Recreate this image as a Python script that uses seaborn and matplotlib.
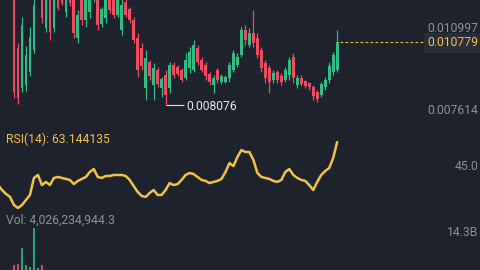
import numpy as np
import pandas as pd
import matplotlib
matplotlib.use("Agg")
import matplotlib.pyplot as plt
import seaborn as sns

# ---------------- data ----------------
candle_index = list(range(-4, 82))

opens = [0.01330, 0.01338, 0.01318, 0.01296,
         0.013225, 0.010522, 0.008806, 0.008934, 0.009492, 0.010436, 0.012796, 0.013010,
         0.011380, 0.012796, 0.011380, 0.013010, 0.013225, 0.012066, 0.013010, 0.012796,
         0.010951, 0.012796, 0.011723, 0.012066, 0.012667, 0.012796, 0.011551, 0.011809,
         0.012796, 0.012581, 0.011938, 0.011294, 0.012495, 0.012195, 0.011723, 0.010951,
         0.010522, 0.008806, 0.009921, 0.008934, 0.009578, 0.008806, 0.009363, 0.008806,
         0.009792, 0.009707, 0.009578, 0.009235, 0.009664, 0.009578, 0.010522, 0.010007,
         0.009792, 0.009407, 0.008934, 0.009578, 0.009063, 0.009063, 0.009235, 0.009578,
         0.009792, 0.010221, 0.011294, 0.010650, 0.011165, 0.010951, 0.010436, 0.009878,
         0.009664, 0.009149, 0.009492, 0.009321, 0.009149, 0.009363, 0.010136, 0.008934,
         0.009235, 0.009106, 0.009020, 0.008849, 0.008634, 0.008505, 0.008849, 0.009149,
         0.009492, 0.009578]

highs = [0.01345, 0.01350, 0.01330, 0.01310,
         0.013654, 0.010736, 0.011852, 0.010607, 0.011423, 0.013010, 0.013654, 0.013439,
         0.013225, 0.013225, 0.013225, 0.013439, 0.013439, 0.013439, 0.013439, 0.013225,
         0.012152, 0.013010, 0.013225, 0.013439, 0.013654, 0.013225, 0.012281, 0.013225,
         0.013225, 0.013010, 0.013010, 0.012796, 0.012796, 0.012281, 0.011852, 0.011165,
         0.010736, 0.010436, 0.010007, 0.009878, 0.009707, 0.009278, 0.009578, 0.009921,
         0.009921, 0.009792, 0.009664, 0.010307, 0.010565, 0.010865, 0.010650, 0.010136,
         0.009921, 0.009492, 0.009363, 0.009664, 0.009407, 0.009363, 0.009921, 0.010436,
         0.010307, 0.011423, 0.011508, 0.011380, 0.012152, 0.011165, 0.010565, 0.010007,
         0.009792, 0.009578, 0.009578, 0.009449, 0.009707, 0.010136, 0.010307, 0.009363,
         0.009363, 0.009149, 0.009063, 0.008934, 0.008720, 0.009063, 0.009278, 0.009921,
         0.010350, 0.011294]

lows = [0.01320, 0.01310, 0.01290, 0.01275,
        0.008377, 0.008119, 0.008634, 0.008677, 0.009321, 0.010307, 0.012667, 0.011594,
        0.011208, 0.010865, 0.011208, 0.012152, 0.012367, 0.011852, 0.012324, 0.010951,
        0.010736, 0.011508, 0.011423, 0.011809, 0.012495, 0.011294, 0.011423, 0.011594,
        0.012023, 0.011809, 0.011852, 0.011079, 0.011852, 0.011594, 0.010736, 0.009278,
        0.009578, 0.008291, 0.009149, 0.008291, 0.008849, 0.008420, 0.008076, 0.008591,
        0.009235, 0.009321, 0.009063, 0.009149, 0.009449, 0.009492, 0.009792, 0.009492,
        0.009149, 0.008934, 0.008591, 0.009020, 0.008977, 0.009020, 0.009063, 0.009492,
        0.009707, 0.010136, 0.010650, 0.010565, 0.010565, 0.010093, 0.009492, 0.009020,
        0.008591, 0.009020, 0.009020, 0.008934, 0.009063, 0.009149, 0.009020, 0.008806,
        0.008892, 0.008806, 0.008720, 0.008291, 0.008205, 0.008420, 0.008720, 0.009020,
        0.009363, 0.009492]

closes = [0.01338, 0.01318, 0.01296, 0.01300,
          0.008634, 0.008377, 0.011508, 0.010221, 0.010994, 0.012367, 0.013439, 0.011809,
          0.012796, 0.011208, 0.012796, 0.012238, 0.012452, 0.013010, 0.012452, 0.011165,
          0.011938, 0.011723, 0.012796, 0.013010, 0.013225, 0.011508, 0.012195, 0.012796,
          0.012152, 0.011938, 0.012796, 0.012367, 0.011938, 0.011723, 0.010865, 0.009578,
          0.009750, 0.010093, 0.009321, 0.009664, 0.008977, 0.009192, 0.008505, 0.009792,
          0.009363, 0.009407, 0.009149, 0.010007, 0.010350, 0.010650, 0.009921, 0.009578,
          0.009321, 0.009063, 0.009235, 0.009149, 0.009321, 0.009278, 0.009792, 0.010307,
          0.010136, 0.011294, 0.010865, 0.011165, 0.010736, 0.010221, 0.009664, 0.009235,
          0.009063, 0.009449, 0.009149, 0.009063, 0.009578, 0.010007, 0.009235, 0.009235,
          0.008977, 0.008892, 0.008849, 0.008462, 0.008334, 0.008977, 0.009149, 0.009750,
          0.010221, 0.010779]

rsi_values = [37.1, 34.1, 31.7, 29.9,
              25.0, 23.2, 25.0, 28.1, 31.1, 41.4, 43.2, 37.1, 39.0, 37.1,
              41.4, 42.0, 41.4, 40.8, 40.2, 37.7, 39.6, 40.8, 42.0, 45.0,
              46.8, 42.0, 41.4, 42.6, 42.6, 43.2, 43.2, 43.2, 42.6, 40.2,
              36.5, 32.9, 30.5, 29.9, 32.3, 34.1, 31.1, 31.1, 34.1, 38.3,
              37.1, 37.7, 40.2, 43.2, 44.4, 43.8, 42.0, 40.2, 39.6, 38.3,
              39.0, 39.6, 40.8, 45.0, 50.4, 48.6, 54.1, 58.3, 57.1, 57.1,
              52.3, 44.4, 42.0, 41.4, 40.8, 39.6, 39.0, 40.2, 45.0, 46.8,
              43.2, 41.4, 40.2, 39.6, 37.1, 34.1, 39.0, 43.2, 45.6, 47.4,
              53.5, 63.144135]

volume_billions = [1.8, 2.2, 2.6, 3.0,
                   6.2, 6.5, 11.2, 6.0, 5.6, 17.3, 5.2, 6.1, 4.3, 4.1,
                   3.6, 3.0, 2.7, 3.2, 2.6, 3.4, 2.9, 2.5, 2.8, 2.4,
                   2.6, 2.9, 2.1, 2.3, 2.0, 1.9, 1.8, 2.2, 1.7, 1.6,
                   2.4, 3.1, 2.2, 3.3, 1.9, 2.6, 1.8, 1.7, 2.9, 2.5,
                   1.6, 1.2, 1.4, 2.1, 1.8, 2.3, 1.5, 1.3, 1.4, 1.2,
                   1.5, 1.3, 1.1, 1.0, 1.6, 2.0, 1.5, 3.0, 2.2, 1.8,
                   3.4, 2.3, 2.1, 1.9, 2.2, 1.3, 1.2, 1.1, 1.4, 1.7,
                   2.0, 1.2, 1.0, 0.9, 1.0, 1.6, 1.4, 1.5, 1.3, 2.2,
                   2.8, 4.03]

last_price = 0.010779
min_price = 0.008076
price_labels = ["0.010997", "0.010779", "0.007614"]
min_label = "0.008076"
rsi_title = "RSI(14): 63.144135"
rsi_axis_label = "45.0"
vol_title = "Vol: 4,026,234,944.3"
vol_axis_label = "14.3B"

# ---------------- style ----------------
BG = "#1e222d"
UP = "#2ebd85"
DOWN = "#ef4b62"
GOLD = "#f0c24b"
GRAY = "#8b919c"
SEP = "#2c313c"

sns.set_theme(style="dark", rc={"axes.facecolor": BG, "figure.facecolor": BG})
plt.rcParams["font.family"] = ["Roboto", "DejaVu Sans"]

W, H = 480, 270
fig = plt.figure(figsize=(4.8, 2.7), dpi=100, facecolor=BG)


def rect(top_px, bottom_px):
    return [0, 1 - bottom_px / H, 1, (bottom_px - top_px) / H]


ax_p = fig.add_axes(rect(0, 117))
ax_r = fig.add_axes(rect(117, 210))
ax_v = fig.add_axes(rect(210, 285))

df = pd.DataFrame({"i": candle_index, "o": opens, "h": highs, "l": lows,
                   "c": closes, "rsi": rsi_values, "vol": volume_billions})
colors = np.where(df["c"] >= df["o"], UP, DOWN)

xlim = (-14 / 3.99, (480 - 14) / 3.99)

# candles
ax_p.vlines(df["i"], df["l"], df["h"], colors=colors, lw=0.9)
body = (df["c"] - df["o"]).abs().clip(lower=0.00002)
ax_p.bar(df["i"], body, bottom=df[["o", "c"]].min(axis=1), width=0.68,
         color=colors, linewidth=0)
ax_p.set_ylim(0.007562, 0.012581)
ax_p.hlines(last_price, 81.6, (425 - 14) / 3.99, colors=GOLD, lw=0.8,
            linestyles=(0, (2.5, 2)))
ax_p.hlines(min_price, 38, 42.6, colors="#dfe2e8", lw=0.8)

# RSI
sns.lineplot(data=df, x="i", y="rsi", ax=ax_r, color=GOLD, lw=1.8)
ax_r.set_ylim(22.0, 78.3)

# Volume
ax_v.bar(df["i"], df["vol"], width=0.68, color=colors, linewidth=0, alpha=0.85)
ax_v.set_ylim(0, 22.8)

for ax in (ax_p, ax_r, ax_v):
    ax.set_xlim(*xlim)
    ax.set_facecolor(BG)
    ax.set_xticks([])
    ax.set_yticks([])
    ax.set_xlabel("")
    ax.set_ylabel("")
    for s in ax.spines.values():
        s.set_visible(False)
    ax.grid(False)

for ax in (ax_p, ax_r):
    ax.spines["bottom"].set_visible(True)
    ax.spines["bottom"].set_color(SEP)
    ax.spines["bottom"].set_linewidth(1.0)


def ftext(xp, yp, s, **kw):
    fig.text(xp / W, 1 - yp / H, s, fontsize=8.7, va="center", **kw)


ftext(478, 28, price_labels[0], ha="right", color=GRAY)
ftext(478, 43, price_labels[1], ha="right", color=GOLD,
      bbox=dict(boxstyle="square,pad=0.25", fc="#2a2e39", ec="none"))
ftext(478, 111, price_labels[2], ha="right", color=GRAY)
ftext(186, 106, min_label, ha="left", color="#e6e8ec")
ftext(6, 139, rsi_title, ha="left", color=GOLD)
ftext(478, 167, rsi_axis_label, ha="right", color=GRAY)
ftext(6, 220, vol_title, ha="left", color=GRAY)
ftext(478, 233, vol_axis_label, ha="right", color=GRAY)

fig.savefig("out.png", dpi=100, facecolor=BG)
